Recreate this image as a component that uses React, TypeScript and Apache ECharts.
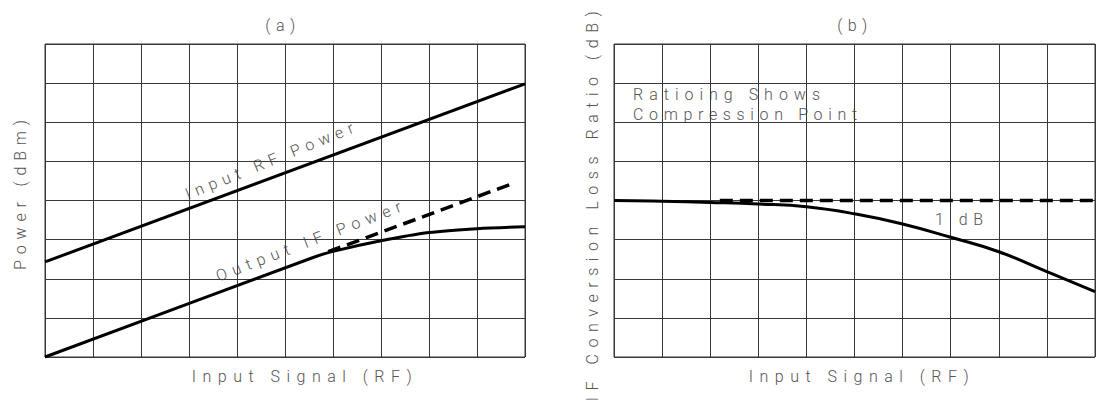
import React, { useEffect, useRef } from "react";
import * as echarts from "echarts";

// ---- data (grid units: x 0..10 columns, y 0..8 rows) ----
const inputRfPower = [[0, 2.43], [10, 6.98]];
const outputIfPower = [[0, 0], [5.6, 2.55], [6, 2.7], [7, 2.97], [8, 3.18], [9, 3.28], [10, 3.33]];
const outputIfLinear = [[5.9, 2.69], [9.8, 4.46]];
const lossRatio = [[0, 4.0], [1, 3.98], [2, 3.95], [3, 3.91], [4, 3.84], [5, 3.66], [6, 3.4], [7, 3.06], [8, 2.69], [9, 2.18], [10, 1.67]];
const lossRatioLinear = [[2.2, 4], [10, 4]];

const panelTitles = ["(a)", "(b)"];
const xNames = ["Input Signal (RF)", "Input Signal (RF)"];
const yNames = ["Power (dBm)", "IF Conversion Loss Ratio (dB)"];
const annotations = ["Input RF Power", "Output IF Power", "Ratioing Shows", "Compression Point", "1 dB"];

// ---- style / layout ----
const FONT = "Roboto, 'Noto Sans', sans-serif";
const TEXT_COLOR = "#555";
const GRID_COLOR = "#383838";
const FS = 16;

// target rendered widths of the plotter-style spaced texts
const TEXT_WIDTHS: Record<string, number> = {
  "(a)": 30,
  "(b)": 30,
  "Input Signal (RF)": 220,
  "Power (dBm)": 150,
  "IF Conversion Loss Ratio (dB)": 390,
  "Input RF Power": 180,
  "Output IF Power": 197,
  "Ratioing Shows": 187,
  "Compression Point": 224,
  "1 dB": 48,
};

const txt = (extra: any = {}) => ({
  fontFamily: FONT,
  fontSize: FS,
  fontWeight: 300,
  color: TEXT_COLOR,
  ...extra,
});

const deg = (d: number) => (d * Math.PI) / 180;

export default function App() {
  const ref = useRef<HTMLDivElement>(null);

  useEffect(() => {
    const el = ref.current!;
    const chart = echarts.init(el, null, { renderer: "svg" });

    const axisCommon = {
      type: "value" as const,
      axisLine: { show: false },
      axisTick: { show: false },
      axisLabel: { show: false },
      splitLine: { show: true, lineStyle: { color: GRID_COLOR, width: 1 } },
      nameLocation: "middle" as const,
    };

    const lineSeries = (data: number[][], idx: number, dashed: boolean, smooth: number | boolean = false) => ({
      type: "line",
      xAxisIndex: idx,
      yAxisIndex: idx,
      data,
      symbol: "none",
      showSymbol: false,
      silent: true,
      smooth,
      lineStyle: { color: "#000", width: dashed ? 3.5 : 3, type: dashed ? [13, 7] : "solid", cap: "butt" },
      z: 5,
    });

    const option: any = {
      animation: false,
      grid: [
        { left: 45, top: 44, width: 480, height: 313, show: true, borderColor: GRID_COLOR, borderWidth: 1 },
        { left: 614, top: 44, width: 481, height: 313, show: true, borderColor: GRID_COLOR, borderWidth: 1 },
      ],
      xAxis: [0, 1].map((i) => ({
        ...axisCommon,
        gridIndex: i,
        min: 0,
        max: 10,
        interval: 1,
        name: xNames[i],
        nameGap: 11,
        nameTextStyle: txt({ padding: [0, 0, 0, i === 0 ? 40 : 15] }),
      })),
      yAxis: [0, 1].map((i) => ({
        ...axisCommon,
        gridIndex: i,
        min: 0,
        max: 8,
        interval: 1,
        name: yNames[i],
        nameGap: i === 0 ? 17 : 14,
        nameTextStyle: txt({ padding: i === 0 ? [0, 0, 0, 17] : [0, 5, 0, 0] }),
      })),
      series: [
        lineSeries(inputRfPower, 0, false),
        lineSeries(outputIfPower, 0, false, 0.3),
        lineSeries(outputIfLinear, 0, true),
        lineSeries(lossRatio, 1, false, 0.45),
        lineSeries(lossRatioLinear, 1, true),
      ],
      graphic: [
        { type: "text", x: 283, y: 25, style: txt({ text: panelTitles[0], align: "center", verticalAlign: "middle", fill: TEXT_COLOR }) },
        { type: "text", x: 855, y: 25, style: txt({ text: panelTitles[1], align: "center", verticalAlign: "middle", fill: TEXT_COLOR }) },
        { type: "text", x: 189, y: 202, rotation: deg(22), style: txt({ text: annotations[0], align: "left", verticalAlign: "bottom", fill: TEXT_COLOR }) },
        { type: "text", x: 219.5, y: 284, rotation: deg(21), style: txt({ text: annotations[1], align: "left", verticalAlign: "bottom", fill: TEXT_COLOR }) },
        { type: "text", x: 633, y: 94, style: txt({ text: annotations[2], align: "left", verticalAlign: "middle", fill: TEXT_COLOR }) },
        { type: "text", x: 633, y: 114, style: txt({ text: annotations[3], align: "left", verticalAlign: "middle", fill: TEXT_COLOR }) },
        { type: "text", x: 935, y: 219, style: txt({ text: annotations[4], align: "left", verticalAlign: "middle", fill: TEXT_COLOR }) },
      ],
    };

    chart.setOption(option);

    const fit = () => {
      el.querySelectorAll("text").forEach((t: any) => {
        const s = (t.textContent || "").trim();
        const target = TEXT_WIDTHS[s];
        if (!target || s.length < 2) return;
        t.style.letterSpacing = "0px";
        const natural = t.getComputedTextLength();
        const sp = (target - natural) / (s.length - 1);
        t.style.letterSpacing = sp.toFixed(2) + "px";
      });
    };
    fit();
    chart.on("finished", fit);
    const timer = setTimeout(fit, 0);

    return () => {
      clearTimeout(timer);
      chart.dispose();
    };
  }, []);

  return (
    <div
      ref={ref}
      style={{ position: "absolute", left: 0, top: 0, width: 1096, height: 401, background: "#fff" }}
    />
  );
}
